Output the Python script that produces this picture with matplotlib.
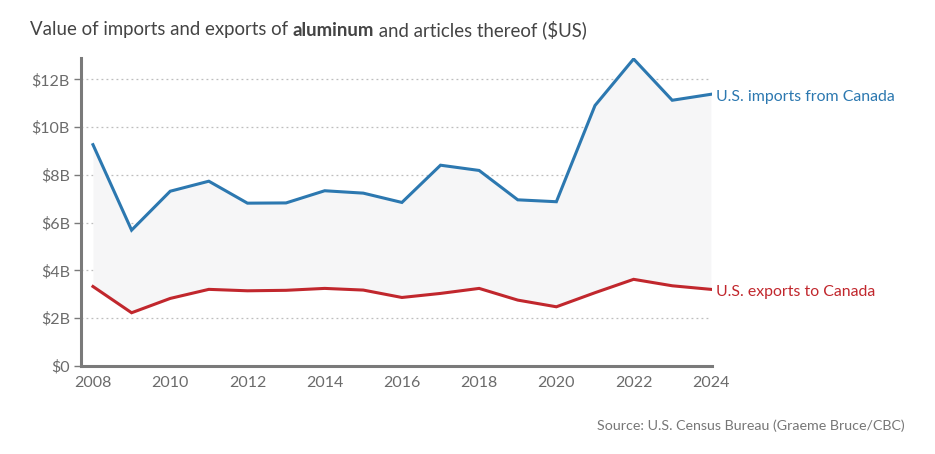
import matplotlib
matplotlib.use("Agg")
import matplotlib.pyplot as plt
from matplotlib.ticker import FuncFormatter, MultipleLocator

years = list(range(2008, 2025))
imports_bn = [9.27, 5.69, 7.32, 7.74, 6.82, 6.83, 7.34, 7.24, 6.85, 8.41,
              8.19, 6.96, 6.88, 10.91, 12.86, 11.13, 11.38]
exports_bn = [3.33, 2.23, 2.83, 3.21, 3.15, 3.17, 3.25, 3.18, 2.87, 3.04,
              3.25, 2.76, 2.48, 3.07, 3.63, 3.36, 3.21]
xticks = [2008, 2010, 2012, 2014, 2016, 2018, 2020, 2022, 2024]
title_parts = ["Value of imports and exports of ", "aluminum", " and articles thereof ($US)"]
import_label = "U.S. imports from Canada"
export_label = "U.S. exports to Canada"
source = "Source: U.S. Census Bureau (Graeme Bruce/CBC)"

FONT = "Lato"
plt.rcParams["font.family"] = [FONT, "DejaVu Sans"]

BLUE = "#2c78b0"
RED = "#c1272d"
GRAY = "#6b6b6b"

W, H = 935, 454
fig = plt.figure(figsize=(W / 100, H / 100), dpi=100)
# axes: left spine x=81, right 712; top y=58, bottom y=366
ax = fig.add_axes([81 / W, 1 - 366 / H, (712 - 81) / W, (366 - 58) / H])

ax.fill_between(years, exports_bn, imports_bn, color="#f6f6f7", lw=0, zorder=1)
ax.plot(years, imports_bn, color=BLUE, lw=2.2, zorder=3, solid_joinstyle="miter")
ax.plot(years, exports_bn, color=RED, lw=2.2, zorder=3, solid_joinstyle="miter")

ax.set_xlim(2007.69, 2024.03)
ax.set_ylim(0, 12.9)
ax.yaxis.set_major_locator(MultipleLocator(2))
ax.yaxis.set_major_formatter(FuncFormatter(lambda v, p: "$0" if v == 0 else f"${v:.0f}B"))
ax.set_xticks(xticks)
ax.set_xticklabels([str(x) for x in xticks])

for y in range(2, 13, 2):
    ax.plot([2007.69, 2023.95], [y, y], color="#bdbdbd", lw=0.9, ls=(0, (1.5, 2.5)),
            zorder=0, clip_on=False)

for s in ["top", "right"]:
    ax.spines[s].set_visible(False)
for s in ["left", "bottom"]:
    ax.spines[s].set_color("#7a7a7a")
    ax.spines[s].set_linewidth(2.2)

ax.tick_params(axis="y", length=5, width=1, color="#7a7a7a", labelsize=11.5,
               labelcolor=GRAY, pad=3)
ax.tick_params(axis="x", length=0, labelsize=11.5, labelcolor=GRAY, pad=7)

ax.text(2024.03, imports_bn[-1] - 0.1, " " + import_label, color=BLUE, fontsize=11.4,
        va="center", ha="left", transform=ax.transData)
ax.text(2024.03, exports_bn[-1] - 0.1, " " + export_label, color=RED, fontsize=11.4,
        va="center", ha="left", transform=ax.transData)

# title with bold part
fig.canvas.draw()
r = fig.canvas.get_renderer()
x = 30
ty = 1 - 30 / H
for i, part in enumerate(title_parts):
    t = fig.text(x / W, ty, part, fontsize=13.4, color="#444444",
                 fontweight="bold" if i == 1 else "normal", va="center", ha="left")
    bb = t.get_window_extent(renderer=r)
    x = bb.x1

fig.text(905 / W, 1 - 426 / H, source, fontsize=10.3, color="#777777",
         ha="right", va="center")

fig.savefig("out.png", dpi=100, facecolor="white")
